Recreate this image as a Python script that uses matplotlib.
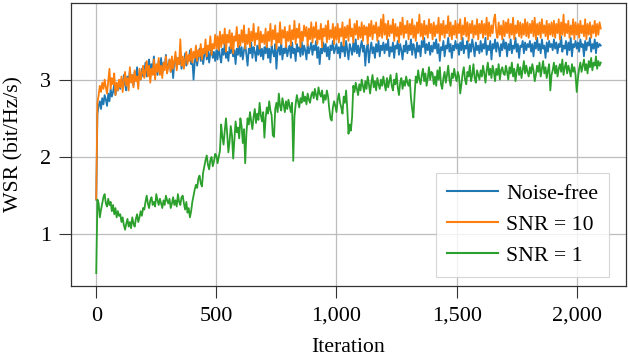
import numpy as np
import matplotlib
matplotlib.use("Agg")
import matplotlib.pyplot as plt
from matplotlib.ticker import FixedLocator, FixedFormatter

# ---------------- data (every 5 iterations) ----------------
step = 5

noise_free = [
    1.45, 2.56, 2.66, 2.72, 2.62, 2.76, 2.68, 2.80, 2.74, 2.66, 2.82, 2.72, 2.88, 2.78, 2.84, 2.94, 2.80, 2.90, 2.86, 2.96,
    2.88, 3.00, 2.92, 3.06, 2.94, 2.86, 3.04, 2.96, 3.12, 2.98, 3.06, 2.92, 3.10, 3.02, 3.16, 2.98, 3.08, 3.00, 3.14, 3.04,
    3.10, 3.22, 3.04, 3.18, 3.26, 3.08, 3.20, 3.12, 3.30, 3.10, 3.16, 3.06, 3.24, 3.14, 3.28, 3.08, 3.22, 3.16, 3.32, 3.12,
    3.18, 3.26, 3.10, 3.24, 3.02, 3.22, 3.30, 3.16, 3.28, 3.20, 3.36, 3.14, 3.26, 3.22, 3.34, 3.18, 3.30, 3.24, 3.38, 3.20,
    3.26, 3.00, 3.22, 3.34, 3.18, 3.30, 3.40, 3.24, 3.36, 3.20, 3.32, 3.42, 3.26, 3.38, 3.22, 3.34, 3.44, 3.28, 3.36, 3.24,
    3.38, 3.26, 3.44, 3.30, 3.22, 3.40, 3.32, 3.46, 3.28, 3.36, 3.24, 3.42, 3.34, 3.48, 3.30, 3.38, 3.20, 3.40, 3.32, 3.44,
    3.30, 3.42, 3.26, 3.38, 3.46, 3.32, 3.18, 3.40, 3.34, 3.48, 3.28, 3.42, 3.36, 3.24, 3.44, 3.32, 3.46, 3.30, 3.40, 3.26,
    3.42, 3.34, 3.48, 3.28, 3.40, 3.22, 3.44, 3.36, 3.30, 3.46, 3.14, 3.38, 3.42, 3.32, 3.48, 3.26, 3.40, 3.34, 3.46, 3.30,
    3.38, 3.44, 3.28, 3.48, 3.34, 3.40, 3.24, 3.46, 3.36, 3.42, 3.30, 3.50, 3.32, 3.44, 3.38, 3.26, 3.46, 3.34, 3.40, 3.48,
    3.32, 3.44, 3.38, 3.50, 3.28, 3.42, 3.20, 3.40, 3.34, 3.48, 3.36, 3.46, 3.30, 3.42, 3.26, 3.44, 3.38, 3.50, 3.34, 3.40,
    3.46, 3.34, 3.42, 3.28, 3.48, 3.36, 3.44, 3.30, 3.50, 3.38, 3.26, 3.46, 3.40, 3.32, 3.48, 3.36, 3.52, 3.34, 3.44, 3.30,
    3.42, 3.50, 3.36, 3.44, 3.18, 3.40, 3.46, 3.22, 3.38, 3.48, 3.34, 3.42, 3.28, 3.46, 3.36, 3.50, 3.30, 3.44, 3.38, 3.48,
    3.34, 3.46, 3.38, 3.52, 3.30, 3.42, 3.36, 3.48, 3.28, 3.44, 3.40, 3.50, 3.32, 3.46, 3.38, 3.26, 3.44, 3.36, 3.50, 3.34,
    3.44, 3.38, 3.52, 3.32, 3.46, 3.40, 3.28, 3.48, 3.36, 3.44, 3.30, 3.50, 3.42, 3.54, 3.34, 3.46, 3.38, 3.48, 3.32, 3.44,
    3.36, 3.48, 3.40, 3.52, 3.34, 3.46, 3.24, 3.42, 3.38, 3.50, 3.30, 3.44, 3.40, 3.54, 3.36, 3.46, 3.28, 3.44, 3.38, 3.50,
    3.40, 3.46, 3.32, 3.48, 3.38, 3.54, 3.34, 3.44, 3.40, 3.50, 3.28, 3.46, 3.36, 3.52, 3.42, 3.30, 3.48, 3.38, 3.44, 3.34,
    3.50, 3.36, 3.46, 3.40, 3.54, 3.32, 3.44, 3.38, 3.50, 3.26, 3.46, 3.40, 3.52, 3.36, 3.48, 3.42, 3.30, 3.46, 3.38, 3.52,
    3.40, 3.48, 3.30, 3.46, 3.38, 3.52, 3.34, 3.44, 3.40, 3.54, 3.36, 3.46, 3.28, 3.44, 3.42, 3.50, 3.34, 3.48, 3.38, 3.46,
    3.42, 3.50, 3.36, 3.46, 3.30, 3.48, 3.40, 3.54, 3.38, 3.46, 3.34, 3.52, 3.40, 3.44, 3.28, 3.48, 3.36, 3.50, 3.42, 3.46,
    3.38, 3.52, 3.40, 3.48, 3.34, 3.46, 3.42, 3.56, 3.36, 3.44, 3.40, 3.50, 3.32, 3.48, 3.38, 3.54, 3.30, 3.46, 3.42, 3.50,
    3.40, 3.48, 3.36, 3.52, 3.42, 3.46, 3.30, 3.50, 3.38, 3.48, 3.44, 3.54, 3.36, 3.46, 3.40, 3.52, 3.34, 3.48, 3.42, 3.46,
    3.44,
]

snr_10 = [
    1.45, 2.70, 2.80, 2.92, 2.84, 2.96, 2.88, 3.00, 2.90, 2.82, 2.98, 3.14, 2.88, 3.02, 2.94, 3.08, 2.80, 2.96, 2.86, 3.00,
    2.90, 3.04, 2.84, 2.98, 3.10, 2.92, 3.02, 2.86, 3.16, 2.96, 3.06, 2.90, 3.12, 2.98, 3.04, 2.88, 3.14, 3.00, 3.08, 3.18,
    3.02, 3.12, 3.24, 3.04, 3.18, 2.96, 3.14, 3.06, 3.26, 3.00, 3.20, 3.10, 3.28, 3.06, 3.18, 3.02, 3.22, 3.12, 3.30, 3.08,
    3.16, 3.26, 3.10, 3.30, 3.14, 3.24, 3.36, 3.12, 3.28, 3.20, 3.52, 3.18, 3.30, 3.14, 3.26, 3.36, 3.20, 3.32, 3.24, 3.40,
    3.22, 3.36, 3.28, 3.44, 3.24, 3.38, 3.30, 3.46, 3.26, 3.40, 3.34, 3.52, 3.30, 3.44, 3.38, 3.56, 3.32, 3.46, 3.40, 3.58,
    3.40, 3.56, 3.38, 3.62, 3.42, 3.58, 3.46, 3.66, 3.36, 3.58, 3.48, 3.64, 3.40, 3.60, 3.34, 3.56, 3.50, 3.68, 3.42, 3.58,
    3.44, 3.64, 3.48, 3.70, 3.40, 3.58, 3.46, 3.66, 3.42, 3.62, 3.50, 3.72, 3.44, 3.60, 3.52, 3.68, 3.40, 3.62, 3.48, 3.58,
    3.46, 3.66, 3.42, 3.62, 3.50, 3.72, 3.44, 3.64, 3.52, 3.70, 3.40, 3.60, 3.48, 3.74, 3.46, 3.64, 3.54, 3.68, 3.42, 3.62,
    3.50, 3.70, 3.44, 3.64, 3.52, 3.76, 3.46, 3.66, 3.54, 3.72, 3.42, 3.62, 3.50, 3.70, 3.56, 3.68, 3.44, 3.66, 3.52, 3.74,
    3.48, 3.68, 3.54, 3.74, 3.46, 3.64, 3.52, 3.72, 3.42, 3.66, 3.56, 3.70, 3.48, 3.76, 3.52, 3.64, 3.54, 3.72, 3.46, 3.68,
    3.52, 3.72, 3.48, 3.66, 3.56, 3.74, 3.44, 3.68, 3.54, 3.70, 3.50, 3.78, 3.56, 3.66, 3.48, 3.72, 3.58, 3.76, 3.52, 3.68,
    3.54, 3.74, 3.50, 3.70, 3.58, 3.68, 3.46, 3.72, 3.56, 3.76, 3.52, 3.70, 3.60, 3.74, 3.50, 3.68, 3.56, 3.78, 3.54, 3.84,
    3.58, 3.72, 3.52, 3.76, 3.56, 3.70, 3.60, 3.78, 3.50, 3.72, 3.56, 3.68, 3.48, 3.74, 3.58, 3.80, 3.54, 3.70, 3.60, 3.76,
    3.52, 3.72, 3.58, 3.78, 3.54, 3.70, 3.50, 3.74, 3.60, 3.84, 3.56, 3.72, 3.52, 3.76, 3.58, 3.70, 3.54, 3.78, 3.60, 3.72,
    3.52, 3.74, 3.56, 3.70, 3.60, 3.80, 3.50, 3.72, 3.58, 3.76, 3.54, 3.70, 3.60, 3.82, 3.56, 3.74, 3.52, 3.70, 3.58, 3.76,
    3.54, 3.72, 3.60, 3.78, 3.52, 3.70, 3.58, 3.80, 3.56, 3.74, 3.50, 3.72, 3.60, 3.76, 3.54, 3.70, 3.58, 3.78, 3.52, 3.72,
    3.60, 3.76, 3.54, 3.72, 3.58, 3.80, 3.52, 3.74, 3.56, 3.70, 3.60, 3.78, 3.84, 3.62, 3.54, 3.74, 3.58, 3.70, 3.52, 3.76,
    3.56, 3.74, 3.60, 3.78, 3.54, 3.72, 3.58, 3.80, 3.52, 3.70, 3.60, 3.76, 3.56, 3.74, 3.54, 3.72, 3.58, 3.78, 3.56, 3.74,
    3.54, 3.72, 3.60, 3.76, 3.56, 3.80, 3.52, 3.72, 3.58, 3.74, 3.54, 3.78, 3.60, 3.70, 3.56, 3.76, 3.52, 3.72, 3.58, 3.74,
    3.56, 3.76, 3.54, 3.72, 3.60, 3.78, 3.52, 3.74, 3.58, 3.84, 3.56, 3.72, 3.60, 3.76, 3.54, 3.70, 3.58, 3.78, 3.52, 3.74,
    3.58, 3.72, 3.54, 3.76, 3.60, 3.70, 3.56, 3.78, 3.52, 3.72, 3.58, 3.74, 3.54, 3.70, 3.60, 3.76, 3.56, 3.72, 3.58, 3.74,
    3.66,
]

snr_1 = [
    0.50, 1.45, 1.40, 1.22, 1.32, 1.40, 1.48, 1.52, 1.40, 1.36, 1.46, 1.38, 1.42, 1.30, 1.38, 1.26, 1.34, 1.22, 1.30, 1.24,
    1.26, 1.16, 1.22, 1.12, 1.06, 1.14, 1.20, 1.10, 1.16, 1.08, 1.22, 1.14, 1.10, 1.20, 1.26, 1.16, 1.22, 1.30, 1.24, 1.34,
    1.32, 1.42, 1.50, 1.40, 1.34, 1.44, 1.48, 1.38, 1.42, 1.36, 1.52, 1.44, 1.38, 1.46, 1.40, 1.34, 1.44, 1.38, 1.50, 1.44,
    1.40, 1.46, 1.34, 1.40, 1.48, 1.38, 1.44, 1.36, 1.52, 1.42, 1.38, 1.48, 1.50, 1.40, 1.32, 1.42, 1.28, 1.34, 1.22, 1.30,
    1.42, 1.50, 1.58, 1.64, 1.60, 1.72, 1.76, 1.66, 1.62, 1.80, 1.88, 1.96, 2.02, 1.90, 1.84, 1.96, 2.00, 1.88, 1.94, 2.04,
    2.02, 1.92, 2.00, 2.08, 2.42, 2.26, 2.16, 2.34, 2.50, 2.30, 2.06, 2.20, 2.40, 2.28, 1.98, 2.22, 2.46, 2.32, 2.38, 2.24,
    2.50, 2.40, 2.18, 2.36, 1.92, 2.30, 2.50, 2.42, 2.58, 2.46, 2.36, 2.52, 2.62, 2.44, 2.56, 2.48, 2.70, 2.54, 2.46, 2.58,
    2.25, 2.50, 2.64, 2.56, 2.72, 2.60, 2.54, 2.28, 2.26, 2.62, 2.70, 2.58, 2.82, 2.66, 2.60, 2.76, 2.68, 2.58, 2.72, 2.62,
    2.74, 2.66, 2.58, 2.70, 1.95, 2.52, 2.68, 2.80, 2.72, 2.64, 2.76, 2.70, 2.84, 2.72, 2.78, 2.68, 2.82, 2.74, 2.70, 2.80,
    2.84, 2.76, 2.88, 2.80, 2.74, 2.90, 2.82, 2.78, 2.86, 2.70, 2.80, 2.74, 2.86, 2.78, 2.62, 2.50, 2.47, 2.64, 2.72, 2.66,
    2.58, 2.74, 2.82, 2.70, 2.64, 2.56, 2.78, 2.70, 2.86, 2.62, 2.30, 2.42, 2.34, 2.52, 2.92, 2.84, 2.96, 2.88, 2.80, 2.94,
    2.86, 3.00, 2.92, 2.84, 2.98, 2.88, 3.04, 2.94, 2.82, 2.96, 3.06, 2.90, 2.98, 2.86, 3.02, 2.94, 2.88, 3.00, 2.92, 3.04,
    2.94, 2.86, 3.02, 2.90, 2.98, 3.06, 2.92, 2.86, 3.00, 2.94, 3.08, 2.90, 2.80, 2.96, 3.02, 2.88, 2.98, 2.92, 3.04, 2.96,
    2.92, 3.00, 2.76, 2.62, 2.51, 2.80, 3.04, 2.96, 3.12, 3.00, 2.94, 3.06, 3.14, 2.98, 3.08, 2.92, 3.02, 3.16, 3.00, 3.10,
    3.08, 2.94, 3.04, 2.92, 3.12, 3.00, 3.16, 2.94, 2.88, 3.02, 3.10, 2.96, 3.06, 3.18, 3.00, 2.92, 3.08, 3.02, 3.14, 3.04,
    2.98, 3.10, 3.04, 2.82, 2.94, 3.08, 3.16, 3.00, 2.94, 3.10, 3.04, 3.18, 2.98, 3.06, 3.20, 3.02, 2.96, 3.12, 3.06, 3.00,
    3.12, 3.04, 3.18, 3.08, 2.96, 3.12, 3.22, 3.06, 3.14, 3.02, 3.18, 3.10, 2.98, 3.14, 3.06, 3.20, 3.00, 3.12, 3.16, 3.08,
    3.06, 3.18, 3.10, 3.00, 3.16, 3.08, 3.22, 3.04, 3.14, 2.98, 3.10, 3.20, 3.06, 3.16, 3.02, 3.12, 3.24, 3.08, 3.18, 3.10,
    3.04, 3.16, 3.08, 3.20, 3.12, 2.98, 3.06, 3.18, 3.10, 3.22, 3.04, 3.14, 3.24, 3.08, 3.16, 3.02, 3.12, 3.20, 2.86, 3.06,
    3.12, 3.22, 3.08, 3.18, 3.04, 3.14, 3.20, 3.10, 3.26, 3.06, 3.16, 3.22, 3.08, 3.18, 3.12, 3.04, 3.20, 3.10, 3.16, 3.06,
    2.84, 3.02, 3.14, 3.22, 3.10, 3.18, 3.26, 3.12, 3.20, 3.08, 3.24, 3.16, 3.28, 3.12, 3.22, 3.18, 3.30, 3.14, 3.24, 3.18,
    3.22,
]

series_labels = ["Noise-free", "SNR = 10", "SNR = 1"]
series_colors = ["#1f77b4", "#ff7f0e", "#2ca02c"]

x_ticks = [0, 500, 1000, 1500, 2000]
x_tick_labels = ["0", "500", "1,000", "1,500", "2,000"]
y_ticks = [1, 2, 3]
y_tick_labels = ["1", "2", "3"]

# ---------------- figure ----------------
plt.rcParams["font.family"] = ["Liberation Serif", "DejaVu Serif"]

fig = plt.figure(figsize=(6.28, 3.60), dpi=100)
ax = fig.add_axes([71 / 628, 1 - 286 / 360, 555 / 628, 283 / 360])

for vals, lab, col in zip([noise_free, snr_10, snr_1], series_labels, series_colors):
    iters = np.arange(len(vals)) * step
    ax.plot(iters, vals, color=col, lw=1.3, label=lab)

ax.set_xlim(-105, 2205)
ax.set_ylim(0.333, 3.99)

ax.xaxis.set_major_locator(FixedLocator(x_ticks))
ax.xaxis.set_major_formatter(FixedFormatter(x_tick_labels))
ax.yaxis.set_major_locator(FixedLocator(y_ticks))
ax.yaxis.set_major_formatter(FixedFormatter(y_tick_labels))

ax.grid(True, color="#bdbdbd", lw=0.9)
ax.set_axisbelow(True)
for s in ax.spines.values():
    s.set_color("#333333")
    s.set_linewidth(0.9)

ax.tick_params(axis="both", direction="out", length=8.3, width=0.8,
               color="#333333", labelsize=16, pad=5)
ax.tick_params(axis="x", pad=6.5)
ax.tick_params(axis="y", pad=6)

ax.set_xlabel("Iteration", fontsize=15.7, labelpad=9)
ax.set_ylabel("WSR (bit/Hz/s)", fontsize=15.7, labelpad=12)

leg = ax.legend(loc="lower right", bbox_to_anchor=(0.9694, 0.0318),
                borderaxespad=0, fontsize=15.7, frameon=True, framealpha=0.8,
                edgecolor="#cccccc", fancybox=False, handlelength=2.35,
                handletextpad=0.35, labelspacing=0.5, borderpad=0.5)
leg.get_frame().set_linewidth(0.8)
for line in leg.get_lines():
    line.set_linewidth(1.5)

fig.savefig("out.png", dpi=100)
